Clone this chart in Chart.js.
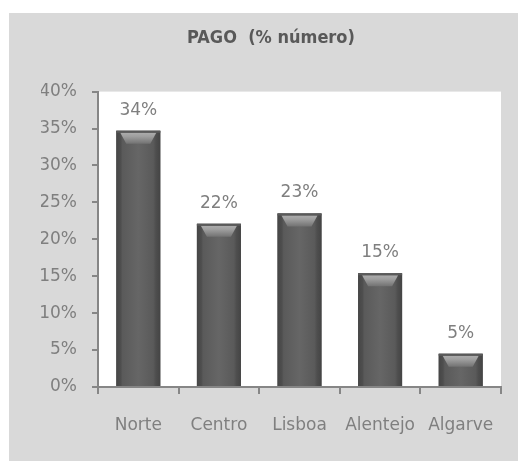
<!DOCTYPE html>
<html><head><meta charset="utf-8">
<script src="https://cdn.jsdelivr.net/npm/chart.js@4/dist/chart.umd.min.js"></script>
<style>html,body{margin:0;padding:0;background:#fff;overflow:hidden}</style>
</head><body>
<canvas id="c" width="518" height="461" style="display:block;width:518px;height:461px"></canvas>
<script>
const categories = ['Norte', 'Centro', 'Lisboa', 'Alentejo', 'Algarve'];
const values = [34.7, 22.1, 23.5, 15.4, 4.5];
const valueLabels = ['34%', '22%', '23%', '15%', '5%'];
const yMin = 0, yMax = 40, yStep = 5;
const titleText = 'PAGO  (% número)';

const AXIS = '#868686';
const TXT = '#7f7f7f';
const FONT = 'DejaVu Sans';

const bgPlugin = {
  id: 'bg',
  beforeDraw(chart) {
    const ctx = chart.ctx, a = chart.chartArea;
    ctx.save();
    ctx.fillStyle = '#ffffff';
    ctx.fillRect(0, 0, chart.width, chart.height);
    ctx.fillStyle = '#d9d9d9';
    ctx.fillRect(9, 13, chart.width - 9, chart.height - 13);
    ctx.fillStyle = '#ffffff';
    ctx.fillRect(a.left, a.top, a.right - a.left, a.bottom - a.top);
    ctx.restore();
  }
};

const barStyle = {
  id: 'barStyle',
  afterDatasetsDraw(chart) {
    const ctx = chart.ctx;
    const meta = chart.getDatasetMeta(0);
    ctx.save();
    meta.data.forEach((el, i) => {
      const p = el.getProps(['x', 'y', 'base', 'width'], true);
      const left = p.x - p.width / 2, w = p.width, top = p.y, h = p.base - p.y;
      const g = ctx.createLinearGradient(left, 0, left + w, 0);
      g.addColorStop(0, '#464646');
      g.addColorStop(0.1, '#4e4e4e');
      g.addColorStop(0.14, '#5a5a5a');
      g.addColorStop(0.5, '#666666');
      g.addColorStop(0.84, '#5a5a5a');
      g.addColorStop(0.9, '#4e4e4e');
      g.addColorStop(1, '#444444');
      ctx.fillStyle = g;
      ctx.fillRect(left, top, w, h);
      // top bevel
      const bh = Math.min(13, h);
      const inset = 10;
      const vg = ctx.createLinearGradient(0, top, 0, top + bh);
      vg.addColorStop(0, '#b4b4b4');
      vg.addColorStop(0.45, '#9e9e9e');
      vg.addColorStop(1, '#727272');
      ctx.fillStyle = vg;
      ctx.beginPath();
      ctx.moveTo(left + 4, top + 2);
      ctx.lineTo(left + w - 4, top + 2);
      ctx.lineTo(left + w - inset, top + bh);
      ctx.lineTo(left + inset, top + bh);
      ctx.closePath();
      ctx.fill();
      ctx.fillStyle = '#5a5a5a';
      ctx.fillRect(left, top, w, 2);
      // value label
      ctx.fillStyle = TXT;
      ctx.font = '17px "' + FONT + '"';
      ctx.textAlign = 'center';
      ctx.textBaseline = 'alphabetic';
      ctx.fillText(valueLabels[i], p.x, top - 16);
    });
    ctx.restore();
  }
};

new Chart(document.getElementById('c'), {
  type: 'bar',
  data: {
    labels: categories,
    datasets: [{
      data: values,
      backgroundColor: '#5a5a5a',
      borderWidth: 0,
      categoryPercentage: 1,
      barPercentage: 0.546
    }]
  },
  options: {
    responsive: false,
    animation: false,
    devicePixelRatio: 1,
    layout: { padding: { left: 41, top: 13, right: 17, bottom: 22 } },
    plugins: {
      legend: { display: false },
      tooltip: { enabled: false },
      title: {
        display: true,
        text: titleText,
        color: '#595959',
        font: { family: 'DejaVu Sans Condensed', size: 18, weight: 'bold', lineHeight: 1.2 },
        padding: { top: 15, bottom: 42 }
      }
    },
    scales: {
      x: {
        z: 1,
        grid: { display: true, drawOnChartArea: false, drawTicks: true, tickLength: 7, color: AXIS, lineWidth: 2, offset: true },
        border: { display: true, color: AXIS, width: 2 },
        ticks: { color: TXT, font: { family: FONT, size: 17 }, padding: 21, maxRotation: 0, autoSkip: false },
        afterFit(s) { s.height = 52; }
      },
      y: {
        z: 1,
        min: yMin, max: yMax,
        grid: { display: true, drawOnChartArea: false, drawTicks: true, tickLength: 6, color: AXIS, lineWidth: 2 },
        border: { display: true, color: AXIS, width: 2 },
        ticks: { stepSize: yStep, color: TXT, font: { family: FONT, size: 17 }, padding: 15, callback: v => v + '%' },
        afterFit(s) { s.width = 57; }
      }
    }
  },
  plugins: [bgPlugin, barStyle]
});
</script>
</body></html>
